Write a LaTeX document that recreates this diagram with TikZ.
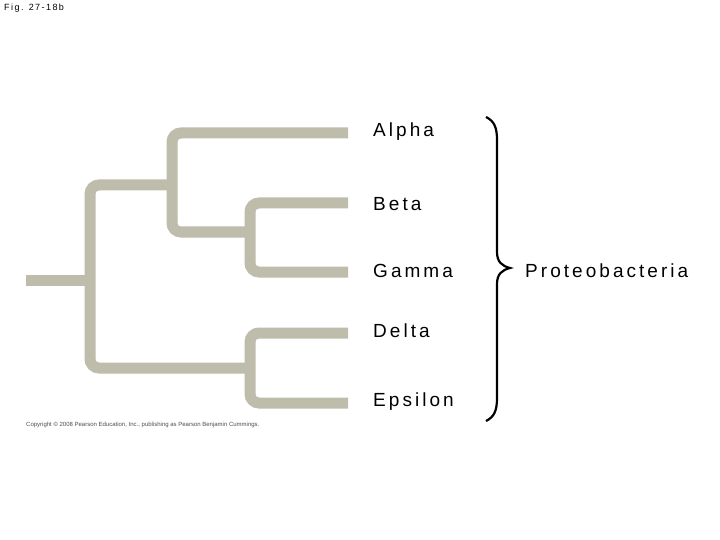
\documentclass[tikz,border=0pt]{standalone}
\usepackage{fontspec}
\setmainfont{Liberation Sans}[LetterSpace=16]
\newfontfamily\tightsans{Liberation Sans}
\begin{document}
\begin{tikzpicture}[x=1pt,y=-1pt,
  br/.style={line width=11pt,color={rgb,255:red,190;green,188;blue,170},rounded corners=9pt},
  lab/.style={anchor=west,font=\fontsize{19}{22}\selectfont,inner sep=0pt},
  brace/.style={line width=2.2pt,black}]
\useasboundingbox (0,0) rectangle (720,540);
\node[anchor=north west,font=\fontsize{9}{10}\selectfont,inner sep=0pt] (fig) at (4,4) {Fig. 27-18b};
\coordinate (root) at (26,280);
\coordinate (ra) at (348,133);
\coordinate (rb) at (348,203);
\coordinate (rg) at (348,272);
\coordinate (rd) at (348,333);
\coordinate (re) at (348,403);
\draw[br,rounded corners=0pt] (root) -- (90,280);
\draw[br] (172,185) -- (90,185) -- (90,368) -- (250,368);
\draw[br] (ra) -- (172,133) -- (172,232) -- (250,232);
\draw[br] (rb) -- (250,203) -- (250,272) -- (rg);
\draw[br] (rd) -- (250,333) -- (250,403) -- (re);
\node[lab] (a) at (373,132) {Alpha};
\node[lab] (b) at (373,204) {Beta};
\node[lab] (g) at (373,271) {Gamma};
\node[lab] (d) at (373,331) {Delta};
\node[lab] (e) at (373,402) {Epsilon};
\node[lab] (p) at (525,271) {Proteobacteria};
\node[anchor=west,font=\tightsans\fontsize{6}{7}\selectfont,inner sep=0pt,color=black!70] (c) at (26,425) {Copyright © 2008 Pearson Education, Inc., publishing as Pearson Benjamin Cummings.};
\draw[brace] (486,117) .. controls (494,121) and (497,127) .. (497,140) -- (497,252)
  .. controls (497,262) and (502,266) .. (510,268)
  .. controls (502,270) and (497,274) .. (497,284) -- (497,398)
  .. controls (497,411) and (494,417) .. (486,421);
\end{tikzpicture}
\end{document}
